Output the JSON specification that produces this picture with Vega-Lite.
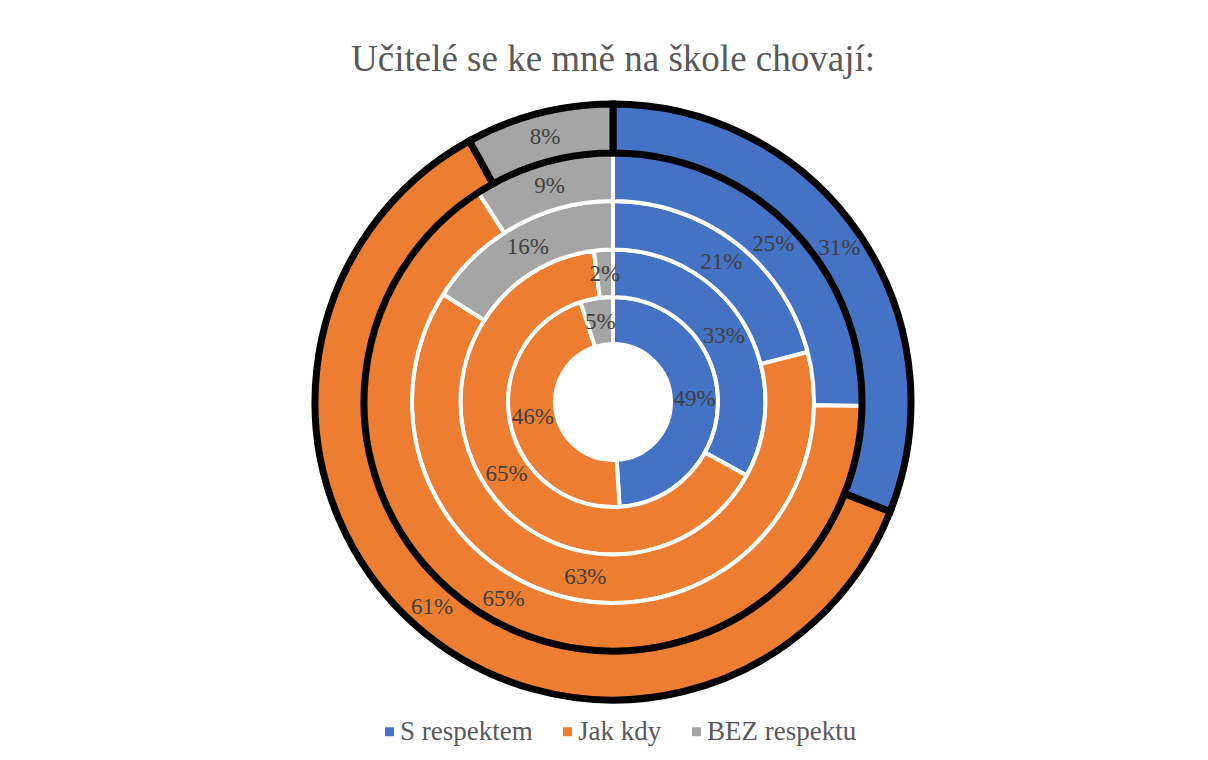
{
  "$schema": "https://vega.github.io/schema/vega-lite/v6.json",
  "width": 600,
  "height": 600,
  "autosize": {"type": "none"},
  "padding": {"left": 313, "top": 102, "right": 295, "bottom": 58},
  "background": "white",
  "config": {"view": {"stroke": null}, "font": "Liberation Serif, Times New Roman, serif"},
  "title": {
    "text": "Učitelé se ke mně na škole chovají:",
    "font": "Liberation Serif, Times New Roman, serif",
    "fontSize": 37,
    "fontWeight": "normal",
    "color": "#595959",
    "anchor": "middle",
    "offset": 11
  },
  "data": {
    "values": [
      {"ring": 1, "cat": "S respektem", "o": 1, "p": 0.49},
      {"ring": 1, "cat": "Jak kdy", "o": 2, "p": 0.46},
      {"ring": 1, "cat": "BEZ respektu", "o": 3, "p": 0.05},
      {"ring": 2, "cat": "S respektem", "o": 1, "p": 0.33},
      {"ring": 2, "cat": "Jak kdy", "o": 2, "p": 0.65},
      {"ring": 2, "cat": "BEZ respektu", "o": 3, "p": 0.02},
      {"ring": 3, "cat": "S respektem", "o": 1, "p": 0.21},
      {"ring": 3, "cat": "Jak kdy", "o": 2, "p": 0.63},
      {"ring": 3, "cat": "BEZ respektu", "o": 3, "p": 0.16},
      {"ring": 4, "cat": "S respektem", "o": 1, "p": 0.25},
      {"ring": 4, "cat": "Jak kdy", "o": 2, "p": 0.65},
      {"ring": 4, "cat": "BEZ respektu", "o": 3, "p": 0.09},
      {"ring": 5, "cat": "S respektem", "o": 1, "p": 0.31},
      {"ring": 5, "cat": "Jak kdy", "o": 2, "p": 0.61},
      {"ring": 5, "cat": "BEZ respektu", "o": 3, "p": 0.08}
    ]
  },
  "encoding": {
    "theta": {"field": "p", "type": "quantitative", "stack": "normalize"},
    "order": {"field": "o", "type": "quantitative"}
  },
  "layer": [
    {
      "transform": [{"filter": "datum.ring == 1"}],
      "mark": {"type": "arc", "radius": 105, "radius2": 58, "stroke": "white", "strokeWidth": 4},
      "encoding": {"color": {"field": "cat", "type": "nominal", "scale": {"domain": ["S respektem", "Jak kdy", "BEZ respektu"], "range": ["#4472C4", "#ED7D31", "#A5A5A5"]}, "legend": {"orient": "none", "legendX": 63, "legendY": 616, "direction": "horizontal", "title": null, "labelFont": "Liberation Serif, Times New Roman, serif", "labelFontSize": 27, "labelColor": "#595959", "symbolType": "square", "symbolSize": 81, "symbolStrokeWidth": 0, "columnPadding": 21, "labelOffset": -3, "padding": 0}}}
    },
    {
      "transform": [{"filter": "datum.ring == 2"}],
      "mark": {"type": "arc", "radius": 152.5, "radius2": 105, "stroke": "white", "strokeWidth": 4},
      "encoding": {"color": {"field": "cat", "type": "nominal"}}
    },
    {
      "transform": [{"filter": "datum.ring == 3"}],
      "mark": {"type": "arc", "radius": 201, "radius2": 152.5, "stroke": "white", "strokeWidth": 4},
      "encoding": {"color": {"field": "cat", "type": "nominal"}}
    },
    {
      "transform": [{"filter": "datum.ring == 4"}],
      "mark": {"type": "arc", "radius": 249, "radius2": 201, "stroke": "white", "strokeWidth": 4},
      "encoding": {"color": {"field": "cat", "type": "nominal"}}
    },
    {
      "transform": [{"filter": "datum.ring == 5"}],
      "mark": {"type": "arc", "radius": 298, "radius2": 249, "stroke": "black", "strokeWidth": 7},
      "encoding": {"color": {"field": "cat", "type": "nominal"}}
    },
    {
      "transform": [{"filter": "datum.ring == 1"}],
      "mark": {"type": "text", "radius": 81.5, "font": "Liberation Serif, Times New Roman, serif", "fontSize": 23, "fill": "#404040", "align": "center", "baseline": "middle"},
      "encoding": {"text": {"field": "p", "type": "quantitative", "format": ".0%"}}
    },
    {
      "transform": [{"filter": "datum.ring == 2"}],
      "mark": {"type": "text", "radius": 128.75, "font": "Liberation Serif, Times New Roman, serif", "fontSize": 23, "fill": "#404040", "align": "center", "baseline": "middle"},
      "encoding": {"text": {"field": "p", "type": "quantitative", "format": ".0%"}}
    },
    {
      "transform": [{"filter": "datum.ring == 3"}],
      "mark": {"type": "text", "radius": 176.75, "font": "Liberation Serif, Times New Roman, serif", "fontSize": 23, "fill": "#404040", "align": "center", "baseline": "middle"},
      "encoding": {"text": {"field": "p", "type": "quantitative", "format": ".0%"}}
    },
    {
      "transform": [{"filter": "datum.ring == 4"}],
      "mark": {"type": "text", "radius": 225, "font": "Liberation Serif, Times New Roman, serif", "fontSize": 23, "fill": "#404040", "align": "center", "baseline": "middle"},
      "encoding": {"text": {"field": "p", "type": "quantitative", "format": ".0%"}}
    },
    {
      "transform": [{"filter": "datum.ring == 5"}],
      "mark": {"type": "text", "radius": 273.5, "font": "Liberation Serif, Times New Roman, serif", "fontSize": 23, "fill": "#404040", "align": "center", "baseline": "middle"},
      "encoding": {"text": {"field": "p", "type": "quantitative", "format": ".0%"}}
    }
  ]
}
